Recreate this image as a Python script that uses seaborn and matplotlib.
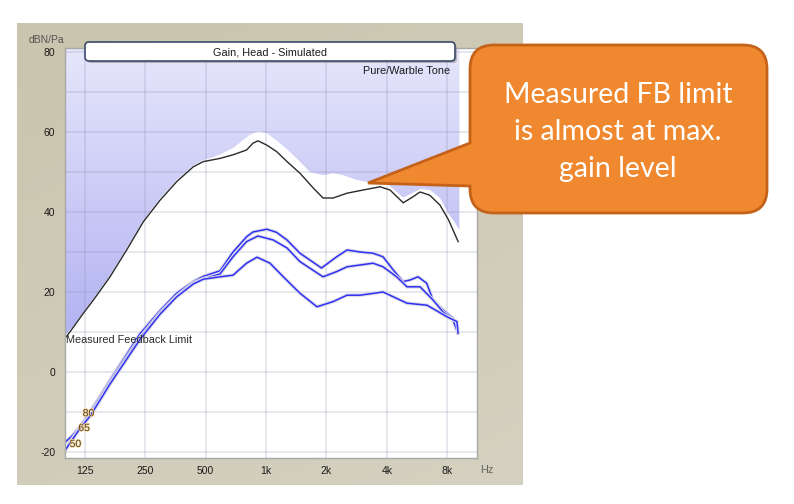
import numpy as np
import pandas as pd
import matplotlib
matplotlib.use("Agg")
import matplotlib.pyplot as plt
import seaborn as sns
from matplotlib.path import Path
from matplotlib.patches import PathPatch, FancyBboxPatch
from matplotlib.colors import LinearSegmentedColormap
import matplotlib.patheffects as pe

# ---------------- data ----------------
tick_freqs = [125, 250, 500, 1000, 2000, 4000, 8000]
tick_labels = ["125", "250", "500", "1k", "2k", "4k", "8k"]
ytick_vals = [-20, 0, 20, 40, 60, 80]

# measured feedback limit (upper boundary of shaded area)
fb_freq = [100, 110, 123, 138, 167, 202, 245, 297, 359, 434, 487, 540, 590, 685, 832,
           912, 1011, 1174, 1317, 1476, 1657, 1924, 2160, 2430, 2830, 3415, 3990, 4480,
           4830, 5400, 5900, 6550, 7370, 8130, 8700, 9200]
fb_gain = [9.2, 11.6, 15.0, 18.4, 24.2, 31.0, 38.0, 43.5, 48.0, 51.7, 53.0, 53.6, 54.4,
           56.0, 59.3, 60.2, 59.7, 57.2, 55.0, 52.6, 50.0, 49.2, 49.7, 49.2, 48.0, 47.3,
           47.2, 45.0, 43.6, 44.8, 45.8, 45.5, 43.5, 39.5, 37.5, 35.5]

# maximum gain (black curve)
max_freq = [101, 110, 123, 138, 167, 202, 245, 297, 359, 434, 487, 590, 685, 800, 861,
            912, 1011, 1130, 1273, 1476, 1720, 1924, 2160, 2534, 3050, 3700, 4150, 4830,
            5400, 5860, 6550, 7370, 8130, 9070]
max_gain = [8.8, 11.3, 14.7, 18.0, 23.8, 30.5, 37.6, 43.0, 47.6, 51.3, 52.6, 53.4, 54.3,
            55.5, 57.2, 57.8, 56.7, 55.1, 52.6, 49.7, 46.0, 43.5, 43.5, 44.7, 45.5, 46.3,
            45.5, 42.3, 43.8, 45.0, 44.2, 41.7, 38.0, 32.6]

# simulated gain curves for input levels 50 / 65 / 80 dB
g50_freq = [100, 108, 118, 133, 167, 236, 297, 359, 434, 487, 590, 685, 800, 861, 1011,
            1130, 1273, 1476, 1890, 2250, 2534, 2941, 3415, 3830, 4310, 4817, 5220, 5723,
            6320, 6798, 7630, 8550, 9060]
g50_gain = [-17.5, -16.0, -13.7, -10.0, -2.0, 9.6, 15.4, 19.7, 22.6, 23.9, 25.3, 30.0,
            33.8, 35.0, 35.7, 34.9, 33.0, 29.7, 26.0, 28.8, 30.5, 30.0, 29.7, 28.8, 25.5,
            22.6, 23.0, 23.8, 22.2, 18.0, 15.5, 13.4, 9.7]

g65_freq = [100, 108, 118, 133, 167, 236, 297, 359, 434, 487, 590, 685, 800, 912, 1087,
            1273, 1476, 1924, 2250, 2534, 3415, 3830, 4480, 5043, 5856, 6798, 7630, 8550,
            9060]
g65_gain = [-19.5, -16.8, -14.0, -10.5, -2.5, 8.7, 14.8, 19.0, 22.3, 23.3, 24.5, 28.8,
            32.6, 34.0, 33.0, 31.0, 27.6, 23.8, 25.1, 26.3, 27.2, 26.3, 23.8, 21.3, 21.3,
            18.0, 15.0, 13.0, 9.7]

g80_freq = [100, 108, 118, 133, 167, 236, 297, 359, 434, 487, 590, 685, 800, 902, 1047,
            1220, 1476, 1795, 2160, 2534, 2941, 3830, 4480, 5043, 6346, 7984, 8950, 9060]
g80_gain = [-19.5, -17.0, -14.2, -11.0, -3.0, 8.2, 14.5, 18.8, 22.0, 23.2, 23.8, 24.2,
            27.2, 28.7, 27.2, 23.8, 19.7, 16.3, 17.6, 19.2, 19.2, 20.0, 18.4, 17.2, 16.7,
            13.8, 12.6, 9.7]

curve_labels = ["80", "65", "50"]
label_freqs = [122, 116, 105]
label_gains = [-10.3, -14.0, -18.0]

# ---------------- build tables ----------------
blue_df = pd.concat([
    pd.DataFrame({"freq": g50_freq, "gain": g50_gain, "level": "50"}),
    pd.DataFrame({"freq": g65_freq, "gain": g65_gain, "level": "65"}),
    pd.DataFrame({"freq": g80_freq, "gain": g80_gain, "level": "80"}),
], ignore_index=True)
max_df = pd.DataFrame({"freq": max_freq, "gain": max_gain})

W, H = 794, 504
fig = plt.figure(figsize=(W / 100, H / 100), dpi=100)
fig.patch.set_facecolor("white")

# ---------------- beige panel (background axes, pixel coords) ----------------
bg = fig.add_axes([0, 0, 1, 1], zorder=0)
bg.set_xlim(0, W)
bg.set_ylim(H, 0)
bg.axis("off")
beige = LinearSegmentedColormap.from_list("beige", ["#c9c5ae", "#d5d1c0"])
gx, gy = np.meshgrid(np.linspace(0, 1, 64), np.linspace(0, 1, 64))
bg.imshow(0.35 * gx + 0.65 * gy, extent=[17, 523, 485, 23], cmap=beige,
          aspect="auto", origin="upper", zorder=0)

# ---------------- main plot ----------------
L, R, T, B = 65, 477, 48, 458
ax = fig.add_axes([L / W, (H - B) / H, (R - L) / W, (B - T) / H], zorder=1)
ax.set_facecolor("white")
ax.set_xscale("log", base=2)
xmin = 1000 * 2 ** ((L - 266) / 60.4)
xmax = 1000 * 2 ** ((R - 266) / 60.4)
ylo, yhi = (372 - B) / 4, (372 - T) / 4
ax.set_xlim(xmin, xmax)
ax.set_ylim(ylo, yhi)
ax.set_autoscale_on(False)

# shaded region above the feedback limit, vertical gradient
verts = list(zip(fb_freq, fb_gain)) + [(fb_freq[-1], 95), (fb_freq[0] * 0.9, 95),
                                       (fb_freq[0] * 0.9, fb_gain[0])]
clip = Path(verts, closed=False)
lav = LinearSegmentedColormap.from_list("lav", ["#9c9cee", "#e6e6fc"])
grad = np.linspace(0, 1, 256).reshape(-1, 1)
im = ax.imshow(grad, extent=[0, 1, 0, 1], transform=ax.transAxes, origin="lower",
               aspect="auto", cmap=lav, zorder=1)
im.set_clip_path(clip, ax.transData)
ax.set_xlim(xmin, xmax)
ax.set_ylim(ylo, yhi)

# grid
for yv in range(-20, 81, 10):
    ax.axhline(yv, color="#8c8cb0", alpha=0.25, lw=1.2, zorder=2)
for xv in tick_freqs:
    ax.axvline(xv, color="#8c8cb0", alpha=0.25, lw=1.2, zorder=2)

# curves
sns.lineplot(data=blue_df, x="freq", y="gain", hue="level",
             palette={"50": "#3030f4", "65": "#3030f4", "80": "#3030f4"},
             estimator=None, sort=False, legend=False, ax=ax, lw=1.1, zorder=4,
             path_effects=[pe.withStroke(linewidth=2.6, foreground="#dcdce8")])
sns.lineplot(data=max_df, x="freq", y="gain", color="#2a2a2a", lw=1.0,
             estimator=None, sort=False, legend=False, ax=ax, zorder=5)

ax.set_xlim(xmin, xmax)
ax.set_ylim(ylo, yhi)

ax.set_xticks(tick_freqs)
ax.set_xticklabels(tick_labels)
ax.set_xticks([], minor=True)
ax.set_yticks(ytick_vals)
ax.set_yticklabels([str(v) for v in ytick_vals])
ax.tick_params(axis="both", length=0, labelsize=7.5, labelcolor="#1a1a1a")
ax.tick_params(axis="y", pad=7)
ax.tick_params(axis="x", pad=6)
for lab in ax.get_xticklabels() + ax.get_yticklabels():
    lab.set_fontfamily("Liberation Sans")
ax.set_xlabel("")
ax.set_ylabel("")
for sp in ax.spines.values():
    sp.set_color("#a8a8a8")
    sp.set_linewidth(1.0)
    sp.set_zorder(6)

ax.text(fb_freq[0] * 1.01, 8.0, "Measured Feedback Limit", fontsize=7.8,
        family="Liberation Sans", color="#2a2a2a", ha="left", va="center", zorder=6)
for lbl, fx, fy in zip(curve_labels, label_freqs, label_gains):
    ax.text(fx, fy, lbl, fontsize=7.5, family="Liberation Sans", color="#5a4018",
            ha="left", va="center", zorder=6,
            path_effects=[pe.withStroke(linewidth=1.0, foreground="#f4d8a8")])

# ---------------- overlay (pixel coords) ----------------
ov = fig.add_axes([0, 0, 1, 1], zorder=3)
ov.set_xlim(0, W)
ov.set_ylim(H, 0)
ov.axis("off")
ov.patch.set_alpha(0)

# title box
ov.add_patch(FancyBboxPatch((87, 44), 370, 19, boxstyle="round,pad=0,rounding_size=4",
                            fc="#8a8a8a", ec="none", alpha=0.55))
ov.add_patch(FancyBboxPatch((85, 42), 370, 19, boxstyle="round,pad=0,rounding_size=4",
                            fc="white", ec="#3c4a68", lw=1.2))
ov.text(270, 52.5, "Gain, Head - Simulated", fontsize=7.8, family="Liberation Sans",
        color="#1a1a1a", ha="center", va="center")
ov.text(450, 71.5, "Pure/Warble Tone", fontsize=7.8, family="Liberation Sans",
        color="#1a1a1a", ha="right", va="center")
ov.text(29, 40, "dBN/Pa", fontsize=7.5, family="Liberation Sans", color="#555555",
        ha="left", va="center")
ov.text(480, 470, "Hz", fontsize=7.8, family="Liberation Sans", color="#666666",
        ha="left", va="center")

# callout
cl, cr, ct, cb, r = 470, 767, 45, 213, 24
tip = (368, 183)
cverts = [(cl + r, ct), (cr - r, ct), (cr, ct), (cr, ct + r), (cr, cb - r), (cr, cb),
          (cr - r, cb), (cl + r, cb), (cl, cb), (cl, cb - r), (cl, 186), tip, (cl, 143),
          (cl, ct + r), (cl, ct), (cl + r, ct), (cl + r, ct)]
codes = [Path.MOVETO, Path.LINETO, Path.CURVE3, Path.CURVE3, Path.LINETO, Path.CURVE3,
         Path.CURVE3, Path.LINETO, Path.CURVE3, Path.CURVE3, Path.LINETO, Path.LINETO,
         Path.LINETO, Path.LINETO, Path.CURVE3, Path.CURVE3, Path.CLOSEPOLY]
ov.add_patch(PathPatch(Path(cverts, codes), fc="#f0882f", ec="#c4621a", lw=2.0,
                       joinstyle="miter"))
for txt, yb in zip(["Measured FB limit", "is almost at max.", "gain level"],
                   [103, 140, 177]):
    ov.text(618, yb, txt, fontsize=20.5, family="Lato", color="white",
            ha="center", va="baseline")

fig.savefig("out.png", dpi=100)
